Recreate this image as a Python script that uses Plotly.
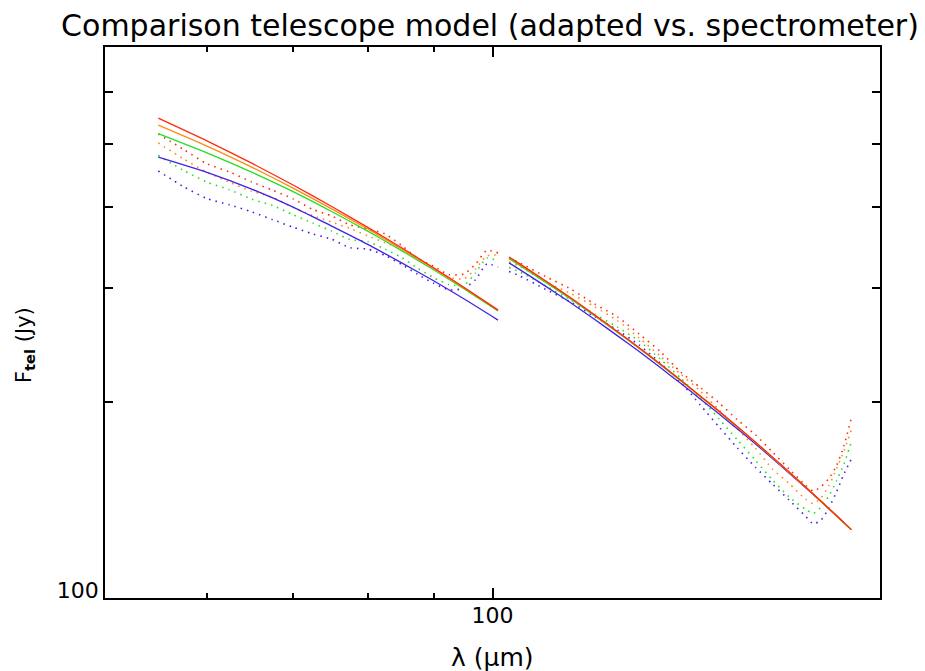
import plotly.graph_objects as go

# ---------------- data ----------------
# wavelengths (micron)
lam_left_model = [55, 60, 65, 70, 75, 80, 85, 90, 95, 101]
lam_left_spec = [55, 57.5, 60, 62.5, 65, 67.5, 70, 72.5, 75, 77.5, 80, 82.5,
                 85, 87.5, 90, 92.5, 95, 97, 99, 101]
lam_right_model = [103, 105, 110, 115, 120, 125, 130, 135, 140, 145, 150,
                   155, 160, 165, 170, 175, 180, 185, 190]
lam_right_spec = [103, 105, 110, 115, 120, 125, 130, 135, 140, 145, 150, 155,
                  160, 165, 170, 175, 177.5, 180, 182.5, 185, 187.5, 190]

# adapted telescope model (solid lines), flux in Jy
model_left_blue = [476.6, 451.6, 425.6, 399.4, 373.4, 350.0, 327.8, 307.6, 288.6, 267.6]
model_left_green = [518.2, 484.0, 451.9, 421.8, 393.1, 366.8, 342.3, 319.9, 299.0, 276.3]
model_left_orange = [533.7, 495.6, 460.0, 427.2, 396.9, 369.5, 344.2, 321.2, 300.2, 277.2]
model_left_red = [547.3, 505.0, 466.6, 431.8, 400.1, 371.7, 345.7, 322.1, 300.6, 277.2]

model_right_blue = [327.7, 320.0, 301.6, 284.6, 268.4, 253.3, 239.4, 226.2, 213.9, 202.4,
                    191.9, 182.0, 172.7, 163.9, 155.6, 147.9, 140.7, 133.8, 127.4]
model_right_green = [332.7, 324.8, 305.8, 288.4, 271.7, 256.3, 242.0, 228.5, 215.9, 204.2,
                     193.4, 183.2, 173.6, 164.6, 156.1, 148.2, 140.8, 133.9, 127.4]
model_right_orange = [334.3, 326.2, 307.0, 289.3, 272.4, 256.8, 242.5, 228.9, 216.2, 204.4,
                      193.5, 183.2, 173.6, 164.5, 156.0, 148.2, 140.8, 133.8, 127.3]
model_right_red = [334.7, 326.6, 307.3, 289.6, 272.7, 257.1, 242.7, 229.1, 216.4, 204.6,
                   193.7, 183.4, 173.8, 164.7, 156.2, 148.3, 140.9, 133.9, 127.4]

# spectrometer-derived telescope flux (dotted lines), flux in Jy
spec_left_blue = [453.8, 429.7, 411.6, 402.4, 392.6, 381.9, 371.9, 363.1, 356.4, 345.8,
                  344.1, 336.6, 325.9, 314.6, 304.9, 297.8, 299.4, 308.8, 326.5, 323.1]
spec_left_green = [479.5, 455.0, 436.2, 424.4, 410.6, 401.4, 388.7, 377.3, 366.8, 356.0,
                   353.5, 344.0, 334.1, 321.3, 311.0, 303.6, 302.6, 316.3, 333.2, 330.0]
spec_left_orange = [501.2, 474.1, 451.8, 435.9, 422.4, 413.3, 398.9, 387.7, 378.5, 370.3,
                    360.6, 352.0, 343.7, 332.0, 321.3, 311.5, 309.6, 320.8, 335.9, 337.1]
spec_left_red = [517.5, 490.2, 465.6, 452.2, 436.5, 423.9, 411.1, 396.2, 387.0, 374.9,
                 369.6, 363.1, 348.6, 332.9, 323.9, 314.4, 315.1, 326.2, 342.5, 339.5]

spec_right_blue = [317.9, 312.9, 298.3, 285.4, 271.0, 258.4, 245.0, 229.9, 214.9, 198.1, 183.2,
                   170.1, 159.0, 149.7, 141.5, 133.7, 130.0, 131.8, 137.5, 145.5, 155.1, 163.6]
spec_right_green = [322.5, 317.4, 302.0, 287.4, 273.5, 261.1, 248.5, 233.1, 218.0, 203.1, 188.5,
                    175.0, 163.0, 151.9, 143.0, 137.0, 134.9, 138.0, 143.5, 151.3, 160.7, 173.8]
spec_right_orange = [328.8, 323.6, 306.3, 294.1, 280.7, 267.2, 251.2, 235.6, 221.1, 208.2, 194.6,
                     182.0, 170.1, 157.9, 150.0, 142.0, 139.7, 142.7, 148.7, 157.9, 168.3, 181.3]
spec_right_red = [333.5, 327.7, 312.1, 298.8, 283.4, 270.8, 254.7, 239.4, 222.7, 210.8, 199.5,
                  187.9, 178.4, 167.7, 157.9, 149.2, 146.1, 148.4, 152.7, 159.6, 171.3, 189.2]

x_minor_ticks = [60, 70, 80, 90]
x_major_ticks = [100]
y_minor_ticks = [200, 300, 400, 500, 600]
y_major_ticks = [100]

colors = {"blue": "#4420E8", "green": "#22E022", "orange": "#FF8A10", "red": "#FF2A10"}

# ---------------- figure ----------------
fig = go.Figure()

spec = {
    "blue": (spec_left_blue, spec_right_blue),
    "green": (spec_left_green, spec_right_green),
    "orange": (spec_left_orange, spec_right_orange),
    "red": (spec_left_red, spec_right_red),
}
model = {
    "blue": (model_left_blue, model_right_blue),
    "green": (model_left_green, model_right_green),
    "orange": (model_left_orange, model_right_orange),
    "red": (model_left_red, model_right_red),
}

for name in ["blue", "green", "orange", "red"]:
    left, right = spec[name]
    for xs, ys in ((lam_left_spec, left), (lam_right_spec, right)):
        fig.add_trace(go.Scatter(
            x=xs, y=ys, mode="lines", showlegend=False, hoverinfo="skip",
            line=dict(color=colors[name], width=1.6, dash="1.5px,5px", shape="spline", smoothing=0.6)))

for name in ["blue", "green", "orange", "red"]:
    left, right = model[name]
    for xs, ys in ((lam_left_model, left), (lam_right_model, right)):
        fig.add_trace(go.Scatter(
            x=xs, y=ys, mode="lines", showlegend=False, hoverinfo="skip",
            line=dict(color=colors[name], width=1.3, shape="spline", smoothing=0.6)))

font_family = "DejaVu Sans"

fig.update_layout(
    width=925, height=671,
    margin=dict(l=105, r=45, t=47, b=73),
    paper_bgcolor="white", plot_bgcolor="white",
    font=dict(family=font_family, color="black", size=22),
    title=dict(text="Comparison telescope model (adapted vs. spectrometer)",
               x=(490 - 105) / 775, xref="paper", xanchor="center",
               y=1 - 25 / 671, yref="container", yanchor="middle",
               font=dict(family=font_family, size=30, color="black")),
    showlegend=False,
)

fig.update_xaxes(
    type="log", range=[1.69897, 2.30103],
    showgrid=False, zeroline=False,
    showline=True, linecolor="black", linewidth=1.8, mirror="ticks",
    ticks="inside", ticklen=10, tickwidth=1.5, tickcolor="black",
    tickvals=x_major_ticks, ticktext=[str(v) for v in x_major_ticks],
    tickfont=dict(size=22, family=font_family),
    ticklabelstandoff=-3,
    minor=dict(tickvals=x_minor_ticks, ticks="inside", ticklen=5, tickwidth=1.5,
               tickcolor="black", showgrid=False),
)
fig.update_yaxes(
    type="log", range=[2.0, 2.8476],
    showgrid=False, zeroline=False,
    showline=True, linecolor="black", linewidth=1.8, mirror="ticks",
    ticks="inside", ticklen=8, tickwidth=1.5, tickcolor="black",
    tickvals=y_major_ticks, ticktext=[str(v) for v in y_major_ticks],
    tickfont=dict(size=22, family=font_family),
    ticklabelshift=-8,
    minor=dict(tickvals=y_minor_ticks, ticks="inside", ticklen=8, tickwidth=1.5,
               tickcolor="black", showgrid=False),
)

fig.add_annotation(text="λ (μm)", xref="paper", yref="paper",
                   x=0.5, y=(598 - 657) / 551, xanchor="center", yanchor="middle",
                   showarrow=False, font=dict(size=25, family=font_family))
fig.add_annotation(text="F<sub><b>tel</b></sub> (Jy)", xref="paper", yref="paper",
                   x=(25 - 105) / 775, y=(598 - 345) / 551, xanchor="center", yanchor="middle",
                   textangle=-90, showarrow=False, font=dict(size=21, family=font_family))

fig.write_html("out.html")
